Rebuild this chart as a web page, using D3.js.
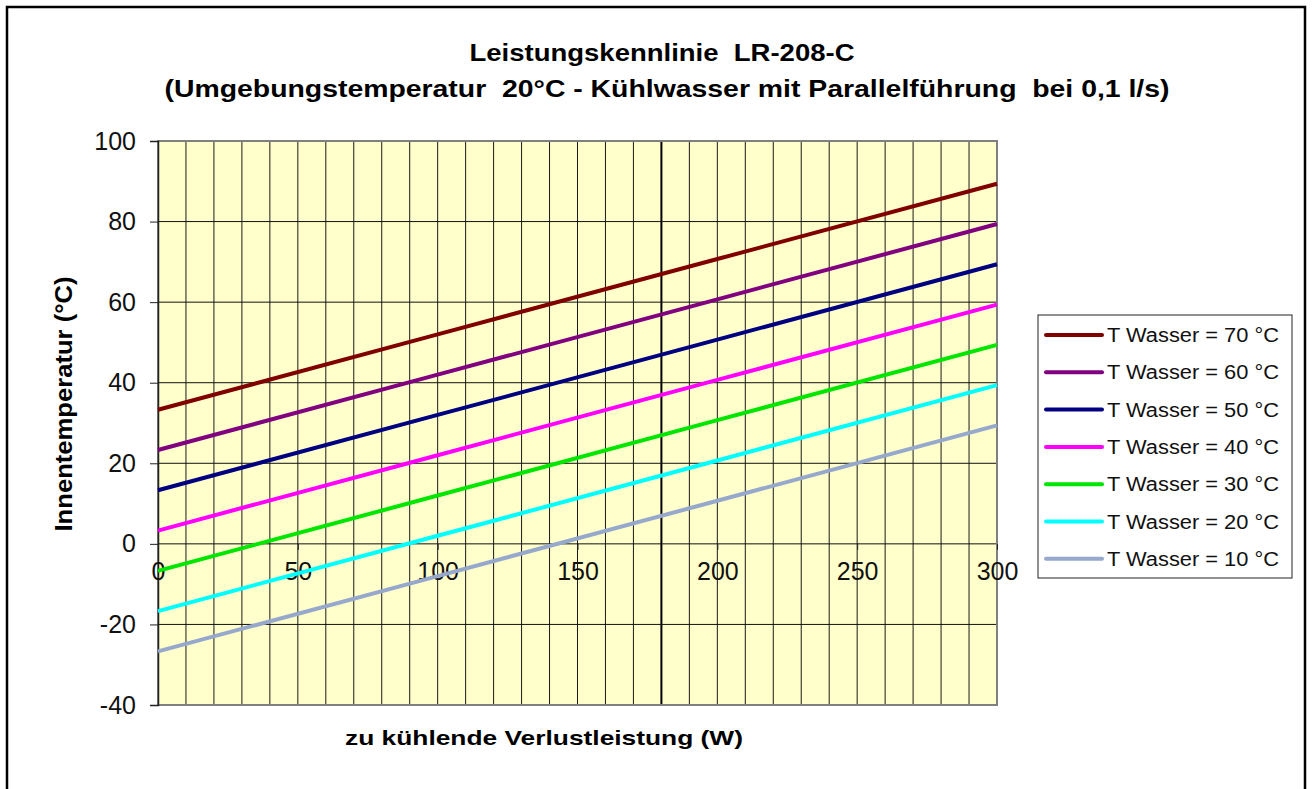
<!DOCTYPE html>
<html>
<head>
<meta charset="utf-8">
<script src="https://cdn.jsdelivr.net/npm/d3@7"></script>
<style>
    body { margin: 0; background: #fff; }
    text { font-family: Arial, 'Liberation Sans', sans-serif; white-space: pre; }
</style>
</head>
<body>
<script>
var width = 1312,
    height = 789;

var leistung = [0, 100, 200, 300];

var serien = ['T Wasser = 70 °C', 'T Wasser = 60 °C', 'T Wasser = 50 °C', 'T Wasser = 40 °C',
    'T Wasser = 30 °C', 'T Wasser = 20 °C', 'T Wasser = 10 °C'];

var t70 = [33.3, 52.0, 70.7, 89.4];
var t60 = [23.3, 42.0, 60.7, 79.4];
var t50 = [13.3, 32.0, 50.7, 69.4];
var t40 = [3.3, 22.0, 40.7, 59.4];
var t30 = [-6.7, 12.0, 30.7, 49.4];
var t20 = [-16.7, 2.0, 20.7, 39.4];
var t10 = [-26.7, -8.0, 10.7, 29.4];

var xTicks = [0, 50, 100, 150, 200, 250, 300];
var yTicks = [-40, -20, 0, 20, 40, 60, 80, 100];

var farben = ['#800000', '#800080', '#000080', '#ff00ff', '#00e600', '#00ffff', '#96a8cc'];

var werte = [t70, t60, t50, t40, t30, t20, t10];

var plot = {left: 158, right: 997, top: 141, bottom: 705};

var x = d3.scaleLinear().domain([0, 300]).range([plot.left, plot.right]);
var y = d3.scaleLinear().domain([-40, 100]).range([plot.bottom, plot.top]);

var svg = d3.select('body')
    .append('svg')
    .attr('width', width)
    .attr('height', height);

// Rahmen um das ganze Diagramm
svg.append('rect')
    .attr('x', 7)
    .attr('y', 7)
    .attr('width', 1298)
    .attr('height', 800)
    .attr('fill', '#fff')
    .attr('stroke', '#000')
    .attr('stroke-width', 2.5);

// Titel (im Original horizontal etwas gestreckt)
svg.append('text')
    .attr('x', 662)
    .attr('y', 61)
    .attr('text-anchor', 'middle')
    .attr('font-size', 23)
    .attr('font-weight', 'bold')
    .attr('textLength', 385)
    .attr('lengthAdjust', 'spacingAndGlyphs')
    .text('Leistungskennlinie  LR-208-C');

svg.append('text')
    .attr('x', 667)
    .attr('y', 97)
    .attr('text-anchor', 'middle')
    .attr('font-size', 23)
    .attr('font-weight', 'bold')
    .attr('textLength', 1005)
    .attr('lengthAdjust', 'spacingAndGlyphs')
    .text('(Umgebungstemperatur  20°C - Kühlwasser mit Parallelführung  bei 0,1 l/s)');

// Plotflaeche
svg.append('rect')
    .attr('x', plot.left)
    .attr('y', plot.top)
    .attr('width', plot.right - plot.left)
    .attr('height', plot.bottom - plot.top)
    .attr('fill', '#ffffcc');

// vertikale Gitterlinien alle 10 W
svg.append('g')
    .selectAll('line')
    .data(d3.range(10, 300, 10))
    .enter()
    .append('line')
    .attr('x1', function (d) { return x(d); })
    .attr('x2', function (d) { return x(d); })
    .attr('y1', plot.top)
    .attr('y2', plot.bottom)
    .attr('stroke', function (d) { return d === 180 ? '#000' : '#1a1a1a'; })
    .attr('stroke-width', function (d) { return d === 180 ? 2 : 1; });

// horizontale Gitterlinien
svg.append('g')
    .selectAll('line')
    .data(yTicks.slice(1, -1))
    .enter()
    .append('line')
    .attr('x1', plot.left)
    .attr('x2', plot.right)
    .attr('y1', function (d) { return y(d); })
    .attr('y2', function (d) { return y(d); })
    .attr('stroke', '#111')
    .attr('stroke-width', 1);

// Rand der Plotflaeche
svg.append('rect')
    .attr('x', plot.left)
    .attr('y', plot.top)
    .attr('width', plot.right - plot.left)
    .attr('height', plot.bottom - plot.top)
    .attr('fill', 'none')
    .attr('stroke', '#808080')
    .attr('stroke-width', 2);

// Y-Achse links
var yAxis = d3.axisLeft(y)
    .tickValues(yTicks)
    .tickFormat(function (d) { return String(d); })
    .tickSize(8)
    .tickPadding(14);

svg.append('g')
    .attr('transform', 'translate(' + plot.left + ',0)')
    .call(yAxis)
    .call(function (g) {
        g.select('.domain').attr('stroke', '#222').attr('stroke-width', 1.5);
        g.selectAll('.tick line').attr('stroke', '#222');
        g.selectAll('text')
            .attr('font-size', 25)
            .attr('font-family', 'Arial, Liberation Sans, sans-serif')
            .attr('fill', '#111');
    });

// X-Achse liegt bei 0 °C
var xAxis = d3.axisBottom(x)
    .tickValues(xTicks)
    .tickFormat(function (d) { return String(d); })
    .tickSize(6)
    .tickPadding(12);

svg.append('g')
    .attr('transform', 'translate(0,' + y(0) + ')')
    .call(xAxis)
    .call(function (g) {
        g.select('.domain').remove();
        g.selectAll('.tick line').attr('stroke', '#222');
        g.selectAll('text')
            .attr('font-size', 25)
            .attr('font-family', 'Arial, Liberation Sans, sans-serif')
            .attr('fill', '#111');
    });

// Kennlinien
var linie = d3.line()
    .x(function (d, i) { return x(leistung[i]); })
    .y(function (d) { return y(d); });

svg.append('g')
    .selectAll('path')
    .data(werte)
    .enter()
    .append('path')
    .attr('d', function (d) { return linie(d); })
    .attr('fill', 'none')
    .attr('stroke', function (d, i) { return farben[i]; })
    .attr('stroke-width', 4);

// Achsentitel
svg.append('text')
    .attr('transform', 'translate(72,404) rotate(-90)')
    .attr('text-anchor', 'middle')
    .attr('font-size', 24)
    .attr('font-weight', 'bold')
    .attr('textLength', 255)
    .attr('lengthAdjust', 'spacingAndGlyphs')
    .text('Innentemperatur (°C)');

svg.append('text')
    .attr('x', 544)
    .attr('y', 745)
    .attr('text-anchor', 'middle')
    .attr('font-size', 21)
    .attr('font-weight', 'bold')
    .attr('textLength', 398)
    .attr('lengthAdjust', 'spacingAndGlyphs')
    .text('zu kühlende Verlustleistung (W)');

// Legende
var legende = svg.append('g');

legende.append('rect')
    .attr('x', 1038)
    .attr('y', 315)
    .attr('width', 254)
    .attr('height', 263)
    .attr('fill', '#fff')
    .attr('stroke', '#222')
    .attr('stroke-width', 1);

var eintrag = legende.selectAll('g.eintrag')
    .data(serien)
    .enter()
    .append('g')
    .attr('class', 'eintrag')
    .attr('transform', function (d, i) {
        return 'translate(1046,' + (335 + i * 37.3) + ')';
    });

eintrag.append('line')
    .attr('x1', 0)
    .attr('x2', 56)
    .attr('stroke', function (d, i) { return farben[i]; })
    .attr('stroke-width', 4)
    .attr('stroke-linecap', 'round');

eintrag.append('text')
    .attr('x', 61)
    .attr('y', 7)
    .attr('font-size', 20)
    .attr('fill', '#111')
    .attr('textLength', 172)
    .attr('lengthAdjust', 'spacingAndGlyphs')
    .text(function (d) { return d; });
</script>
</body>
</html>
